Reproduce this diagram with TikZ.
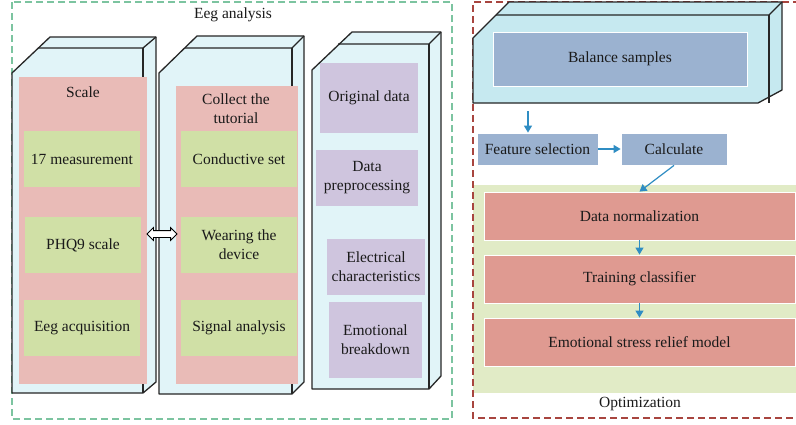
\documentclass[tikz,border=0pt]{standalone}
\usepackage{fontspec}
\setmainfont{Liberation Serif}
\usetikzlibrary{shapes.arrows,arrows.meta}
\definecolor{cubefill}{HTML}{E1F4F8}
\definecolor{cubefillb}{HTML}{C6E9F0}
\definecolor{cubeline}{HTML}{262626}
\definecolor{pinkc}{HTML}{E9BBB7}
\definecolor{greenc}{HTML}{D0E0A6}
\definecolor{purplec}{HTML}{CFC5DE}
\definecolor{bluec}{HTML}{9BB2D0}
\definecolor{redc}{HTML}{DF9A91}
\definecolor{greenbg}{HTML}{E1EBC6}
\definecolor{arrc}{HTML}{2F8DC3}
\definecolor{dashg}{HTML}{7CC4A0}
\definecolor{dashr}{HTML}{A8453F}
\definecolor{txt}{HTML}{1A1A1A}
\begin{document}
\begin{tikzpicture}[x=1pt,y=-1pt,
  font=\fontsize{15.5}{19}\selectfont, text=txt,
  cubeout/.style={draw=cubeline, line width=1.3pt, line join=round},
  cubeln/.style={draw=cubeline, line width=1.3pt},
  tbox/.style={rectangle, inner sep=0pt, align=center},
  gbox/.style={tbox, fill=greenc, minimum width=116pt, minimum height=56pt},
  pbox/.style={tbox, fill=purplec},
  bbox/.style={tbox, fill=bluec, draw=white, line width=0.8pt},
  rbox/.style={tbox, fill=redc, draw=white, line width=0.8pt, minimum width=311pt, minimum height=48pt},
  arr/.style={draw=arrc, line width=1.2pt, -{Triangle[width=8pt,length=7pt]}},
  gdash/.style={draw=dashg, line width=1.2pt, dash pattern=on 7pt off 4pt},
  rdash/.style={draw=dashr, line width=1.2pt, dash pattern=on 7pt off 4pt}]
\useasboundingbox (0,0) rectangle (796,424);
\fill[white] (0,0) rectangle (796,424);

% ---------- Eeg analysis frame ----------
\draw[gdash] (12,2) rectangle (452,419);
\node (title) at (233,15) {Eeg analysis};

% cube 1
\draw[cubeout, fill=cubefill] (12,73) -- (50,37) -- (156,37) -- (156,382) -- (143,393) -- (12,393) -- cycle;
\draw[cubeln] (38.5,48) -- (143,48) -- (156,37);
\draw[cubeln] (143,48) -- (143,393);
% cube 2
\draw[cubeout, fill=cubefill] (159,73) -- (197,36) -- (304,36) -- (304,382) -- (292,394) -- (159,394) -- cycle;
\draw[cubeln] (185,48) -- (292,48) -- (304,36);
\draw[cubeln] (292,48) -- (292,394);
% cube 3
\draw[cubeout, fill=cubefill] (312,70) -- (352,32) -- (441,32) -- (441,376) -- (429,389) -- (312,389) -- cycle;
\draw[cubeln] (338,44) -- (429,44) -- (441,32);
\draw[cubeln] (429,44) -- (429,389);

% column 1
\node[tbox, fill=pinkc, minimum width=128pt, minimum height=307pt] (scale) at (83,230.5) {};
\node (scalet) at (83,92) {Scale};
\node[gbox] (g1) at (82,159) {17 measurement};
\node[gbox] (g2) at (83,245) {PHQ9 scale};
\node[gbox] (g3) at (82,328) {Eeg acquisition};

% column 2
\node[tbox, fill=pinkc, minimum width=122pt, minimum height=298pt] (collect) at (237,235) {};
\node[align=center] (collectt) at (236,109) {Collect the\\tutorial};
\node[gbox] (h1) at (239,159) {Conductive set};
\node[gbox] (h2) at (239,245) {Wearing the\\device};
\node[gbox] (h3) at (239,328) {Signal analysis};

% double arrow
\node[double arrow, draw=black, fill=white, line width=0.8pt, minimum height=30pt,
      inner sep=3pt, double arrow head extend=3pt, double arrow head indent=0pt] (dbl) at (162,234) {};

% column 3
\node[pbox, minimum width=98pt, minimum height=70pt] (p1) at (369,98) {Original data};
\node[pbox, minimum width=102pt, minimum height=56pt] (p2) at (367,178) {Data\\preprocessing};
\node[pbox, minimum width=98pt, minimum height=56pt] (p3) at (376,267) {Electrical\\characteristics};
\node[pbox, minimum width=93pt, minimum height=76pt] (p4) at (375.5,340) {Emotional\\breakdown};

% ---------- Optimization frame ----------
\fill[greenbg] (473,185) rectangle (796,393);
\draw[rdash] (800,2) -- (473,2) -- (473,418) -- (800,418);
\node (opt) at (640,404) {Optimization};

% balance cube
\draw[cubeout, fill=cubefillb] (473,38) -- (509,2) -- (782,2) -- (782,90) -- (758,103) -- (473,103) -- cycle;
\draw[cubeln] (496,15) -- (769,15) -- (782,2);
\draw[cubeln] (769,15) -- (769,103);
\node[bbox, minimum width=254pt, minimum height=54pt] (bal) at (620,59) {Balance samples};

\node[bbox, minimum width=121pt, minimum height=32pt] (feat) at (537.5,149) {Feature selection};
\node[bbox, minimum width=106pt, minimum height=32pt] (calc) at (674,149) {Calculate};

\node[rbox] (dn) at (639.5,216) {Data normalization};
\node[rbox] (tc) at (639.5,279) {Training classifier};
\node[rbox] (esr) at (639.5,342) {Emotional stress relief model};

\coordinate (a1) at (528,111);
\draw[arr] (a1) -- (a1 |- feat.north);
\draw[arr] (feat.east) -- (calc.west);
\draw[arr] (calc.south) -- (dn.north);
\draw[arr] (dn.south) -- (tc.north);
\draw[arr] (tc.south) -- (esr.north);
\end{tikzpicture}
\end{document}
